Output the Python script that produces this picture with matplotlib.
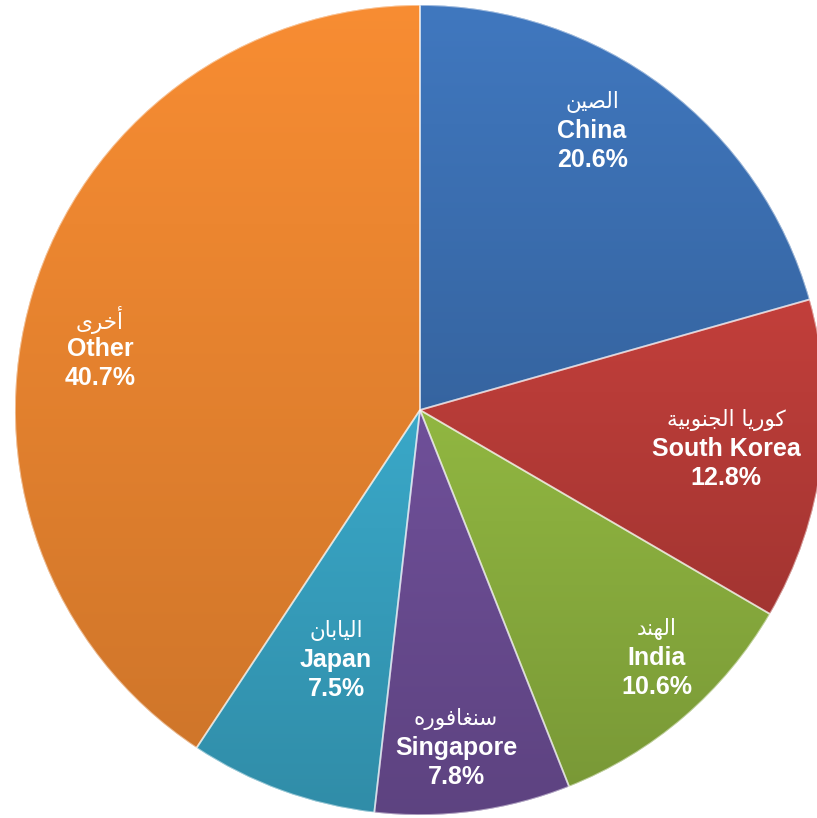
import numpy as np
import matplotlib
matplotlib.use("Agg")
import matplotlib.pyplot as plt
from matplotlib.patches import Wedge
from matplotlib.colors import to_rgb

# ---- data ----
arabic_names = ["الصين", "كوريا الجنوبية", "الهند", "سنغافوره", "اليابان", "أخرى"]
english_names = ["China", "South Korea", "India", "Singapore", "Japan", "Other"]
shares = [20.6, 12.8, 10.6, 7.8, 7.5, 40.7]

# ---- style ----
colors = ["#3d72b6", "#b93c38", "#8aae3e", "#6a4c92", "#37a0bf", "#ec8630"]
label_pos = [(0.425, 0.689), (0.756, -0.096), (0.585, -0.612),
             (0.089, -0.835), (-0.207, -0.617), (-0.790, 0.151)]

# ---- minimal Arabic shaping (presentation forms) ----
FORMS = {
    'ا': (0xFE8D, 0xFE8E), 'أ': (0xFE83, 0xFE84), 'ة': (0xFE93, 0xFE94),
    'د': (0xFEA9, 0xFEAA), 'ر': (0xFEAD, 0xFEAE), 'و': (0xFEED, 0xFEEE),
    'ى': (0xFEEF, 0xFEF0),
    'ب': (0xFE8F, 0xFE90, 0xFE91, 0xFE92), 'ت': (0xFE95, 0xFE96, 0xFE97, 0xFE98),
    'ج': (0xFE9D, 0xFE9E, 0xFE9F, 0xFEA0), 'خ': (0xFEA5, 0xFEA6, 0xFEA7, 0xFEA8),
    'س': (0xFEB1, 0xFEB2, 0xFEB3, 0xFEB4), 'ص': (0xFEB9, 0xFEBA, 0xFEBB, 0xFEBC),
    'غ': (0xFECD, 0xFECE, 0xFECF, 0xFED0), 'ف': (0xFED1, 0xFED2, 0xFED3, 0xFED4),
    'ك': (0xFED9, 0xFEDA, 0xFEDB, 0xFEDC), 'ل': (0xFEDD, 0xFEDE, 0xFEDF, 0xFEE0),
    'ن': (0xFEE5, 0xFEE6, 0xFEE7, 0xFEE8), 'ه': (0xFEE9, 0xFEEA, 0xFEEB, 0xFEEC),
    'ي': (0xFEF1, 0xFEF2, 0xFEF3, 0xFEF4),
}


def shape_arabic(s):
    out = []
    for i, ch in enumerate(s):
        f = FORMS.get(ch)
        if f is None:
            out.append(ch)
            continue
        prev = s[i - 1] if i > 0 else None
        nxt = s[i + 1] if i < len(s) - 1 else None
        jp = prev in FORMS and len(FORMS[prev]) == 4
        jn = nxt in FORMS and len(f) == 4
        if jp and jn:
            code = f[3]
        elif jp:
            code = f[1]
        elif jn:
            code = f[2]
        else:
            code = f[0]
        out.append(chr(code))
    return "".join(out)[::-1]


fig = plt.figure(figsize=(8.17, 8.18), dpi=100)
ax = fig.add_axes([0, 0, 1, 1])

wedges, _ = ax.pie(shares, colors=colors, startangle=90, counterclock=False,
                   radius=1.0, center=(0, 0), frame=True,
                   wedgeprops=dict(edgecolor="none", linewidth=0))
ax.set_aspect("auto")
ax.axis("off")

# gradient fill per wedge
for w, c in zip(wedges, colors):
    base = np.array(to_rgb(c))
    pts = w.get_patch_transform().transform(w.get_path().vertices)
    x0, x1 = pts[:, 0].min(), pts[:, 0].max()
    y0, y1 = pts[:, 1].min(), pts[:, 1].max()
    t = np.linspace(0, 1, 256)[:, None]  # 0 top -> 1 bottom
    fac = 1.05 - 0.17 * t
    img = np.clip(base[None, None, :] * fac[:, :, None], 0, 1)
    img = np.repeat(img, 2, axis=1)
    im = ax.imshow(img, extent=(x0, x1, y0, y1), origin="upper",
                   aspect="auto", zorder=2, interpolation="bilinear")
    im.set_clip_path(w)
    w.set_zorder(1)
    ax.add_patch(Wedge(w.center, w.r, w.theta1, w.theta2, facecolor="none",
                       edgecolor=(1, 1, 1, 0.5), linewidth=1.3, zorder=3))

ax.set_xlim(-420 / 405, (817 - 420) / 405)
ax.set_ylim(-(818 - 410) / 405, 410 / 405)

dy = 29 / 405
for (x, y), ar, en, v in zip(label_pos, arabic_names, english_names, shares):
    ax.text(x, y + dy, shape_arabic(ar), ha="center", va="center",
            color="white", fontsize=15.5, family="DejaVu Sans", zorder=5)
    ax.text(x, y, en, ha="center", va="center", color="white",
            fontsize=18, fontweight="bold", family="Liberation Sans", zorder=5)
    ax.text(x, y - dy, f"{v:.1f}%", ha="center", va="center", color="white",
            fontsize=18, fontweight="bold", family="Liberation Sans", zorder=5)

fig.savefig("out.png", dpi=100, facecolor="white")
